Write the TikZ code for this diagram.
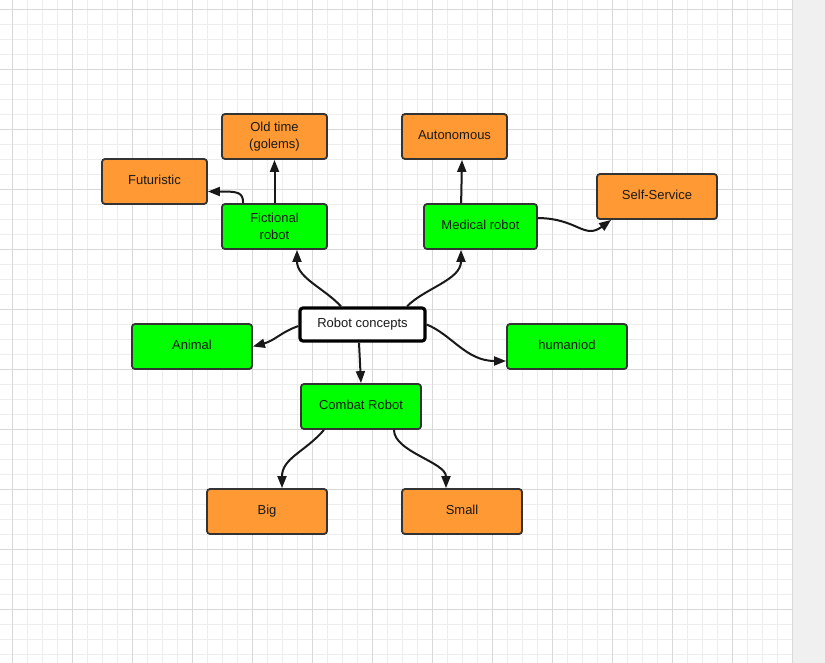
\documentclass[tikz,border=0pt]{standalone}
\usepackage{fontspec}
\setmainfont{Liberation Sans}
\usetikzlibrary{arrows.meta,calc}
\definecolor{gminor}{HTML}{EDEDED}
\definecolor{gmajor}{HTML}{D9D9D9}
\definecolor{strip}{HTML}{F0F0F0}
\definecolor{orng}{HTML}{FF9933}
\definecolor{grn}{HTML}{00FF00}
\definecolor{bord}{HTML}{333333}
\tikzset{
  box/.style={draw=bord, line width=1.8pt, rounded corners=3pt, inner sep=0pt,
    minimum height=45pt, align=center, text=black!90,
    font=\fontsize{13}{17}\selectfont},
  one/.style={text height=9.5pt, text depth=4pt},
  leaf/.style={box, fill=orng},
  mid/.style={box, fill=grn},
  root/.style={box, one, fill=white, draw=black, line width=3.2pt, minimum height=33pt, minimum width=125pt},
  conn/.style={line width=2pt, black!90, -{Triangle[length=12pt,width=9pt]}}
}
\begin{document}
\begin{tikzpicture}[x=1pt,y=-1pt]
\useasboundingbox (0,0) rectangle (825,663);
\fill[white] (0,0) rectangle (825,663);
% grid
\foreach \x in {12.5,27.5,...,792.5} \draw[gminor, line width=1pt] (\x,0) -- (\x,663);
\foreach \y in {9.5,24.5,...,654.5} \draw[gminor, line width=1pt] (0,\y) -- (792,\y);
\foreach \x in {12.5,72.5,...,792.5} \draw[gmajor, line width=1pt] (\x,0) -- (\x,663);
\foreach \y in {9.5,69.5,...,609.5} \draw[gmajor, line width=1pt] (0,\y) -- (792,\y);
\fill[strip] (793,0) rectangle (825,663);
% nodes
\node[leaf, minimum width=105pt] (oldtime) at (274.5,136.5) {Old time\\(golems)};
\node[mid,  minimum width=105pt] (fict)    at (274.5,226.5) {Fictional\\robot};
\node[leaf, one, minimum width=105pt] (futur)   at (154.5,181.5) {Futuristic};
\node[leaf, one, minimum width=105pt] (auton)   at (454.5,136.5) {Autonomous};
\node[mid,  one, minimum width=113pt] (med)     at (480.5,226.5) {Medical robot};
\node[leaf, one, minimum width=120pt] (self)    at (657,196.5)   {Self-Service};
\node[root] (concept) at (362.5,324.5) {Robot concepts};
\node[mid,  one, minimum width=120pt] (animal)  at (192,346.5)   {Animal};
\node[mid,  one, minimum width=120pt] (human)   at (567,346.5)   {humaniod};
\node[mid,  one, minimum width=120pt] (combat)  at (361,406.5)   {Combat Robot};
\node[leaf, one, minimum width=120pt] (big)     at (267,511.5)   {Big};
\node[leaf, one, minimum width=120pt] (small)   at (462,511.5)   {Small};
% connectors
\draw[conn] (fict.north) -- (oldtime.south);
\draw[conn] ($(fict.north west)+(22,0)$) .. controls ($(fict.north west)+(22,-11)$) and ($(futur.east)+(30,10)$) .. ($(futur.east)+(0,10)$);
\draw[conn] ($(concept.north)+(-21.5,0)$) .. controls ($(concept.north)+(-38,-18)$) and ($(fict.south)+(22.5,28)$) .. ($(fict.south)+(22.5,0)$);
\draw[conn] ($(concept.north)+(44.5,0)$) .. controls ($(concept.north)+(62,-18)$) and ($(med.south)+(-19.5,30)$) .. ($(med.south)+(-19.5,0)$);
\draw[conn] ($(med.north west)+(38,0)$) -- ($(auton.south)+(7.5,0)$);
\draw[conn] ($(med.east)+(0,-8.5)$) .. controls ($(med.east)+(40,-8)$) and ($(self.south west)+(-12,20)$) .. ($(self.south west)+(15,0)$);
\draw[conn] ($(concept.west)+(0,1.5)$) .. controls ($(concept.west)+(-18,8)$) and ($(animal.east)+(22,-6)$) .. (animal.east);
\draw[conn] (concept.east) .. controls ($(concept.east)+(25,10)$) and ($(human.west)+(-40,14.5)$) .. ($(human.west)+(0,14.5)$);
\draw[conn] ($(concept.south)+(-3.5,0)$) -- (combat.north);
\draw[conn] ($(combat.south)+(-37,0)$) .. controls ($(combat.south)+(-56,22)$) and ($(big.north)+(15,-30)$) .. ($(big.north)+(15,0)$);
\draw[conn] ($(combat.south)+(33,0)$) .. controls ($(combat.south)+(33,22)$) and ($(small.north)+(-16,-26)$) .. ($(small.north)+(-16,0)$);
\end{tikzpicture}
\end{document}
